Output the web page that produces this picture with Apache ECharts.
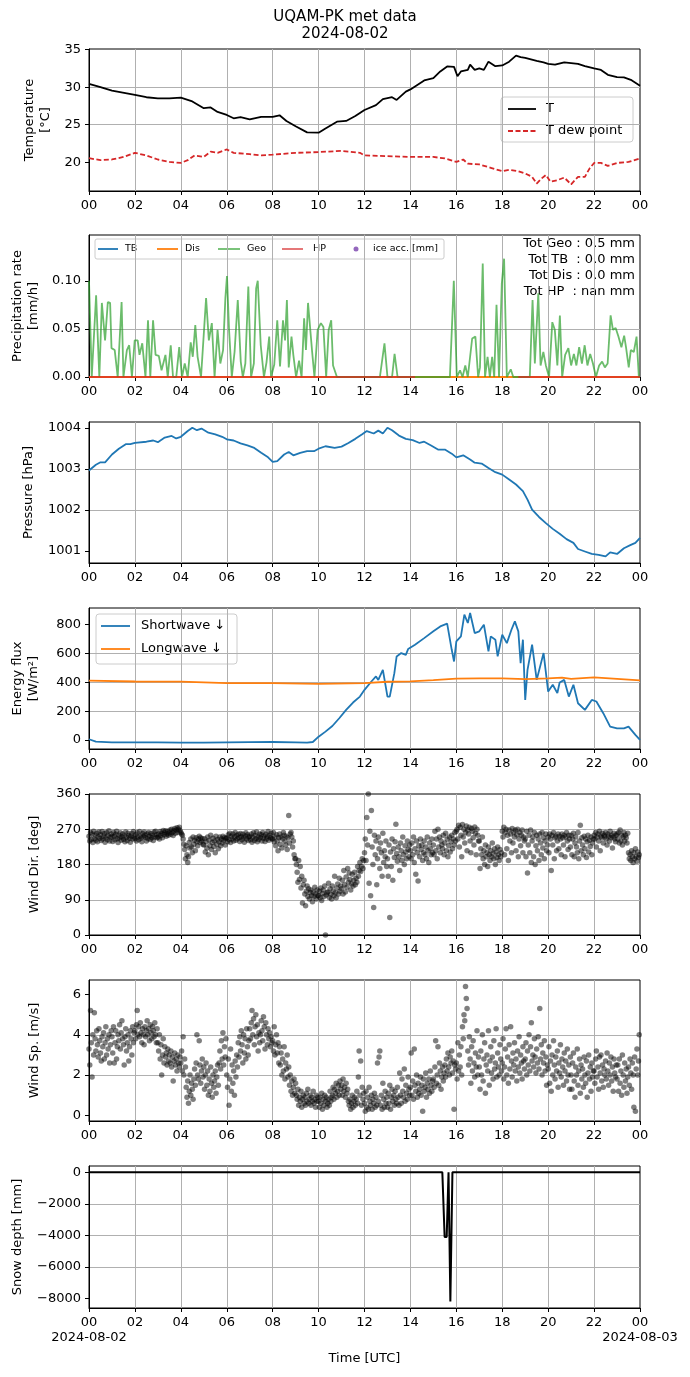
<!DOCTYPE html>
<html><head><meta charset="utf-8">
<script src="https://cdn.jsdelivr.net/npm/echarts@6/dist/echarts.min.js"></script>
<style>html,body{margin:0;padding:0;background:#fff}#c{width:690px;height:1377px}</style>
</head><body><div id="c"></div>
<script>
const FONT = 'DejaVu Sans';
// ---------- DATA ----------
const hourTicks = [0,2,4,6,8,10,12,14,16,18,20,22,24];
const dateLabels = ['2024-08-02','2024-08-03'];

const tempT = [[0,30.45],[0.5,30.0],[1,29.55],[2,28.97],[2.5,28.66],[3,28.5],[3.5,28.5],[4,28.6],[4.5,28.1],[5,27.2],[5.3,27.3],[5.6,26.7],[6,26.3],[6.3,25.85],[6.6,26.0],[7,25.7],[7.5,26.05],[8,26.05],[8.3,26.25],[8.6,25.5],[9,24.8],[9.5,23.97],[10,23.93],[10.3,24.5],[10.8,25.4],[11.2,25.5],[11.6,26.15],[12,26.96],[12.5,27.6],[12.8,28.4],[13.2,28.66],[13.4,28.3],[13.8,29.4],[14,29.7],[14.3,30.3],[14.6,30.9],[15,31.2],[15.3,32.1],[15.6,32.77],[15.9,32.7],[16.05,31.45],[16.2,32.1],[16.5,32.3],[16.6,33.0],[16.8,32.3],[17,32.5],[17.2,32.3],[17.4,33.4],[17.7,32.8],[18,32.9],[18.3,33.4],[18.6,34.2],[18.8,34.0],[19,33.9],[19.5,33.5],[19.8,33.3],[20,33.1],[20.3,33.0],[20.7,33.3],[21,33.2],[21.3,33.1],[21.6,32.8],[22,32.5],[22.3,32.3],[22.6,31.65],[23,31.35],[23.3,31.3],[23.6,30.98],[24,30.2]];
const tempDew = [[0,20.54],[0.5,20.27],[1,20.36],[1.5,20.7],[2,21.25],[2.5,20.9],[3,20.36],[3.5,20.04],[4,19.9],[4.3,20.27],[4.6,20.9],[5,20.7],[5.3,21.4],[5.6,21.25],[6,21.7],[6.3,21.25],[7,21.07],[7.5,20.9],[8,21.0],[9,21.25],[10,21.35],[11,21.5],[11.8,21.25],[12,20.9],[13,20.8],[14,20.7],[15,20.7],[15.5,20.5],[16,20.04],[16.3,20.36],[16.5,19.8],[17,19.7],[17.5,19.25],[18,18.8],[18.3,19.0],[18.7,18.8],[19,18.5],[19.3,18.05],[19.5,17.15],[19.7,17.8],[19.9,18.3],[20.1,17.4],[20.4,17.6],[20.7,17.95],[21,17.05],[21.3,18.05],[21.6,18.05],[21.8,19.15],[22,19.9],[22.3,19.9],[22.6,19.5],[23,19.9],[23.5,20.04],[24,20.5]];

const precipGeo = [[0,0.10],[0.12,0],[0.31,0.085],[0.45,0],[0.56,0.077],[0.7,0.038],[0.82,0.078],[0.92,0.077],[0.98,0.03],[1.12,0.028],[1.25,0],[1.42,0.078],[1.5,0],[1.65,0.028],[1.75,0.033],[1.87,0],[1.99,0.038],[2.12,0.038],[2.2,0.023],[2.32,0.035],[2.46,0],[2.57,0.059],[2.67,0],[2.79,0.059],[2.9,0.023],[3.04,0.022],[3.16,0.007],[3.33,0.023],[3.43,0],[3.56,0.033],[3.66,0],[3.8,0],[3.93,0.031],[4.05,0],[4.17,0.014],[4.3,0],[4.43,0.036],[4.52,0.021],[4.63,0.054],[4.73,0.021],[4.88,0],[5.1,0.082],[5.22,0.038],[5.35,0.056],[5.47,0],[5.6,0.049],[5.72,0.014],[5.84,0.028],[5.94,0.082],[6.01,0.105],[6.1,0.049],[6.22,0],[6.34,0.026],[6.48,0.08],[6.61,0.016],[6.7,0],[6.81,0.014],[6.94,0.094],[7.06,0],[7.18,0.014],[7.28,0.092],[7.35,0.10],[7.48,0.033],[7.62,0],[7.73,0.015],[7.85,0.042],[7.93,0],[8.07,0.013],[8.2,0.059],[8.32,0.011],[8.45,0.059],[8.54,0.038],[8.62,0.08],[8.7,0.01],[8.82,0.042],[8.9,0.023],[9.02,0],[9.15,0.017],[9.26,0],[9.37,0.061],[9.45,0.028],[9.54,0.077],[9.62,0.077],[9.72,0.026],[9.82,0],[9.96,0.049],[10.1,0.056],[10.21,0.052],[10.33,0],[10.44,0.049],[10.55,0.059],[10.63,0.012],[10.8,0],[12.67,0],[12.87,0.035],[13.0,0],[13.2,0],[13.31,0.024],[13.44,0],[15.72,0],[15.89,0.10],[16.02,0],[16.16,0.007],[16.27,0],[16.39,0.012],[16.5,0],[16.69,0.04],[16.83,0.042],[16.95,0],[17.03,0.01],[17.15,0.118],[17.25,0],[17.36,0.021],[17.46,0],[17.56,0.021],[17.65,0],[17.75,0.075],[17.86,0],[17.98,0.097],[18.08,0.123],[18.2,0],[18.37,0.008],[18.48,0],[19.2,0],[19.32,0.08],[19.42,0.014],[19.57,0.087],[19.67,0.012],[19.79,0.026],[19.9,0.012],[20.04,0],[20.18,0.057],[20.29,0.049],[20.4,0.012],[20.51,0.064],[20.61,0],[20.74,0.023],[20.88,0.03],[21.0,0.012],[21.12,0.024],[21.23,0.012],[21.35,0.031],[21.47,0.014],[21.59,0.033],[21.71,0.012],[21.83,0.024],[21.95,0.014],[22.08,0],[22.22,0.012],[22.35,0.016],[22.47,0.01],[22.59,0.014],[22.72,0.064],[22.82,0.049],[22.94,0.051],[23.06,0.042],[23.19,0.031],[23.31,0.043],[23.39,0.031],[23.51,0.01],[23.6,0.028],[23.73,0.026],[23.85,0.042],[23.95,0],[24,0]];
const precipTB = [[0,0],[24,0]];
const precipDis = [[0,0],[24,0]];
const precipHP = [[0,0],[14.2,0],[14.25,null],[18.7,0],[24,0]];
const precipTotals = ['Tot Geo : 0.5 mm','Tot TB  : 0.0 mm','Tot Dis : 0.0 mm','Tot HP  : nan mm'];

const pressure = [[0,1002.96],[0.3,1003.1],[0.5,1003.16],[0.7,1003.16],[1.0,1003.35],[1.3,1003.49],[1.6,1003.6],[1.8,1003.6],[2.0,1003.63],[2.5,1003.66],[2.8,1003.69],[3.0,1003.65],[3.3,1003.76],[3.6,1003.8],[3.8,1003.74],[4.0,1003.78],[4.3,1003.92],[4.5,1004.0],[4.7,1003.94],[4.9,1003.98],[5.2,1003.88],[5.5,1003.84],[5.8,1003.78],[6.0,1003.72],[6.3,1003.69],[6.6,1003.62],[6.9,1003.57],[7.2,1003.51],[7.5,1003.39],[7.8,1003.28],[8.0,1003.17],[8.2,1003.19],[8.5,1003.35],[8.7,1003.41],[8.9,1003.33],[9.2,1003.39],[9.5,1003.43],[9.8,1003.43],[10.0,1003.49],[10.3,1003.55],[10.7,1003.51],[11.0,1003.54],[11.3,1003.63],[11.6,1003.73],[11.9,1003.84],[12.1,1003.92],[12.4,1003.86],[12.6,1003.93],[12.8,1003.86],[13.0,1004.0],[13.2,1003.94],[13.5,1003.81],[13.8,1003.73],[14.1,1003.7],[14.4,1003.63],[14.6,1003.66],[14.9,1003.57],[15.2,1003.47],[15.5,1003.47],[15.8,1003.37],[16.0,1003.28],[16.3,1003.33],[16.6,1003.23],[16.8,1003.15],[17.1,1003.13],[17.4,1003.02],[17.7,1002.92],[18.0,1002.86],[18.3,1002.74],[18.6,1002.62],[18.9,1002.46],[19.1,1002.25],[19.3,1002.01],[19.6,1001.83],[19.9,1001.68],[20.2,1001.54],[20.5,1001.42],[20.8,1001.29],[21.1,1001.2],[21.3,1001.05],[21.6,1000.99],[21.9,1000.93],[22.2,1000.91],[22.5,1000.87],[22.7,1000.97],[23.0,1000.93],[23.3,1001.07],[23.6,1001.15],[23.8,1001.2],[24.0,1001.32]];

const shortwave = [[0,5],[0.3,-12],[1,-16],[2,-16],[3,-17],[4,-18],[5,-19],[6,-17],[7,-15],[8,-14],[9,-16],[9.5,-18],[9.75,-14],[10.0,23],[10.3,58],[10.6,97],[10.9,151],[11.2,209],[11.5,260],[11.8,301],[12.0,348],[12.3,406],[12.5,441],[12.6,417],[12.8,487],[13.0,301],[13.1,301],[13.3,464],[13.4,580],[13.6,603],[13.8,591],[13.9,631],[14.2,661],[14.6,707],[15.0,754],[15.3,788],[15.6,807],[15.8,626],[15.9,545],[16.0,684],[16.2,719],[16.35,870],[16.5,812],[16.6,881],[16.8,742],[17.0,754],[17.2,800],[17.4,615],[17.5,719],[17.7,696],[17.8,580],[18.0,730],[18.2,672],[18.4,765],[18.55,823],[18.7,754],[18.8,533],[18.9,696],[19.0,278],[19.1,487],[19.3,661],[19.5,417],[19.8,603],[20.0,336],[20.2,383],[20.4,325],[20.5,399],[20.7,417],[20.9,301],[21.1,383],[21.3,255],[21.6,209],[21.9,278],[22.1,267],[22.4,186],[22.7,93],[23.0,81],[23.3,81],[23.5,93],[23.8,35],[24.0,0]];
const longwave = [[0,412],[2,406],[4,405],[6,394],[8,394],[10,390],[12,394],[13,404],[14,407],[15,416],[16,426],[17,427],[18,427],[19,422],[20,427],[20.6,433],[21,424],[22,435],[23,424],[24,413]];

// wind samples every 2 minutes, one row per hour (30 samples each)
const windDir = [
 [252,240,262,244,258,236,265,246,255,242,260,238,251,263,247,256,241,264,245,252,259,237,248,262,243,254,266,240,250,258],
 [250,239,262,252,243,257,265,246,236,255,248,261,242,250,258,244,253,238,263,249,241,260,254,247,237,252,259,245,264,250],
 [246,256,240,261,250,243,264,252,247,238,259,251,263,255,249,240,258,246,262,252,244,259,248,255,241,263,250,265,256,248],
 [250,258,245,264,254,260,248,267,256,262,266,252,258,265,255,261,268,257,270,262,254,266,272,260,268,274,262,270,275,266],
 [262,258,255,245,232,218,195,228,205,185,200,236,222,245,225,210,250,232,242,215,248,238,228,245,252,236,248,240,246,232],
 [230,246,212,238,222,250,205,242,228,255,218,236,247,226,240,210,252,232,244,220,238,250,228,245,235,252,242,248,230,246],
 [248,238,256,243,260,236,252,245,258,240,250,262,242,254,246,257,249,239,259,251,243,257,248,237,253,261,245,256,241,250],
 [252,243,258,237,249,261,241,254,246,263,238,251,244,258,248,256,240,262,247,253,239,257,245,251,264,242,255,248,260,246],
 [245,262,238,250,228,256,240,215,248,258,232,250,222,245,262,255,240,230,252,218,248,305,235,258,262,250,225,240,205,195],
 [195,180,160,135,190,142,175,120,150,82,128,140,105,75,112,125,98,118,92,108,115,100,85,110,98,122,105,92,115,100],
 [100,112,95,120,88,106,115,98,125,0,102,108,110,132,96,118,104,92,125,112,100,150,108,95,120,130,105,145,112,125],
 [118,140,105,165,128,110,148,122,170,135,158,142,115,130,155,125,140,160,128,145,135,175,150,165,185,162,175,195,170,190],
 [210,245,190,300,230,360,132,265,100,318,225,180,70,255,205,240,128,195,250,220,170,235,210,150,260,185,215,200,240,175],
 [195,150,230,45,212,175,245,140,220,198,238,283,208,188,225,200,165,235,215,190,250,205,180,228,212,195,240,218,200,230],
 [215,195,235,205,250,185,220,155,240,210,138,228,200,245,218,230,190,210,240,205,225,195,250,215,185,235,220,205,245,210],
 [230,205,265,215,245,195,270,225,250,210,240,230,220,255,205,235,260,215,245,200,228,250,212,238,255,220,245,230,262,240],
 [265,270,245,280,225,275,255,200,282,250,270,235,262,278,215,268,258,275,240,210,272,265,248,230,276,260,205,270,255,240],
 [240,170,220,205,250,195,215,180,230,200,210,175,225,205,190,215,200,235,208,195,220,180,212,198,225,205,190,218,200,210],
 [265,250,275,205,262,270,220,255,190,268,240,258,210,272,235,262,250,268,215,256,270,200,245,262,228,255,268,210,250,240],
 [245,200,265,158,230,255,210,268,185,240,250,200,262,180,228,255,215,245,190,258,235,205,262,222,248,195,240,258,215,230],
 [250,210,258,245,165,255,230,262,195,248,252,215,240,258,220,252,245,205,258,248,230,255,200,250,262,240,218,255,245,225],
 [255,205,245,260,200,235,250,225,210,262,195,240,280,215,248,230,205,252,220,245,198,238,255,212,242,226,250,205,235,245],
 [255,245,262,225,250,258,240,265,215,252,248,260,235,255,250,262,245,230,258,252,240,265,248,255,222,250,260,245,238,255],
 [258,245,262,235,268,240,255,230,250,262,240,255,248,235,260,210,195,205,190,215,200,185,210,195,220,200,188,212,198,205]
];
const windSp = [
 [3.3,2.5,5.2,3.6,1.9,4.0,3.0,5.1,3.8,3.2,4.2,3.5,2.9,4.3,3.7,3.1,2.7,3.9,3.4,4.1,2.8,3.6,4.4,3.0,3.8,3.3,4.0,2.6,3.5,4.2],
 [3.9,3.1,4.4,2.6,3.6,4.2,2.8,3.4,4.0,3.7,4.5,3.3,4.1,4.7,3.8,3.5,2.5,3.9,4.3,3.2,3.6,4.0,2.7,3.4,4.2,3.8,3.0,4.4,3.6,4.1],
 [4.2,3.8,4.5,5.2,4.0,4.4,3.9,4.6,4.1,3.6,4.3,4.0,3.5,4.4,3.9,4.2,4.7,4.0,4.3,3.7,4.5,4.1,3.8,4.4,4.2,3.9,4.6,4.0,3.6,4.3],
 [3.6,3.2,4.0,2.8,3.5,2.0,3.0,3.8,2.6,3.4,2.9,3.1,2.5,3.3,2.7,3.0,2.6,3.2,2.4,2.9,1.7,2.7,3.1,2.5,2.8,2.2,3.0,2.6,2.4,2.9],
 [2.6,3.2,2.2,3.9,2.0,2.8,2.4,1.4,0.9,1.7,0.6,1.2,2.0,1.0,1.6,1.3,0.8,1.8,2.3,1.5,2.6,4.0,2.0,1.8,3.7,2.5,1.6,2.2,2.8,1.9],
 [2.4,1.3,2.0,2.6,1.5,2.2,1.0,1.8,1.2,2.4,1.6,0.9,2.0,1.4,1.7,2.2,1.1,1.9,2.5,1.5,2.6,3.2,2.3,3.7,2.8,4.1,2.5,3.4,2.9,3.8],
 [2.0,1.4,2.8,0.5,1.8,3.3,1.2,2.5,1.6,2.2,1.0,2.7,1.9,3.0,2.4,3.6,2.9,3.9,3.2,4.2,3.5,2.6,4.0,3.1,3.8,2.8,4.3,3.4,3.0,3.7],
 [4.3,3.8,4.6,5.2,4.0,4.8,3.5,4.4,5.0,3.9,4.5,3.2,4.1,3.6,4.0,4.7,4.2,3.7,4.9,4.4,3.3,4.6,4.0,3.5,4.3,3.8,4.1,3.4,3.9,3.6],
 [3.7,3.2,4.4,3.0,3.5,4.0,3.1,3.6,2.6,3.4,2.5,3.1,2.0,2.8,2.2,3.4,1.8,2.6,2.3,3.0,1.9,2.4,1.5,2.0,1.2,1.7,1.0,1.4,1.8,1.1],
 [1.6,1.0,0.8,1.3,0.5,0.9,0.7,1.2,0.4,0.8,1.0,0.6,0.9,0.5,1.1,0.7,1.3,0.6,0.8,1.0,0.5,0.9,0.7,1.2,0.6,0.8,0.4,1.0,0.7,0.9],
 [0.7,0.4,0.9,0.6,1.1,0.3,0.8,0.5,1.0,0.7,0.9,0.4,0.6,0.8,0.5,1.2,0.7,0.9,1.0,1.4,0.8,1.3,1.1,1.6,0.9,1.2,1.5,1.0,1.7,1.3],
 [1.5,1.0,1.8,1.2,1.4,0.9,1.6,1.1,1.3,0.7,0.5,0.8,0.3,0.6,1.0,0.4,0.7,0.9,0.5,0.8,1.2,0.6,1.9,3.2,1.0,2.7,0.5,1.4,0.8,1.1],
 [0.6,0.2,1.2,0.4,0.9,0.3,1.4,0.7,0.5,1.0,0.3,0.8,0.6,1.1,0.4,0.9,0.5,2.6,0.7,2.9,3.2,0.5,1.0,0.3,1.6,0.8,0.4,1.2,0.6,0.9],
 [0.4,1.1,0.6,1.5,0.3,0.9,1.3,0.7,1.0,0.5,1.2,0.8,0.6,1.4,0.9,0.5,2.1,1.0,0.6,1.8,1.2,0.9,2.3,0.7,1.5,1.1,0.8,1.9,1.3,1.0],
 [1.4,3.1,1.0,1.7,0.8,3.3,1.5,1.2,2.0,0.9,1.6,1.1,1.3,1.9,1.0,1.5,0.2,1.8,1.2,1.4,2.1,0.9,1.6,1.3,1.8,1.1,2.2,1.5,1.2,1.7],
 [1.8,1.4,2.4,3.7,1.6,2.0,3.4,1.5,2.6,2.2,1.3,1.9,2.4,1.7,2.1,2.5,1.9,2.8,2.2,3.1,2.4,2.0,2.9,2.6,3.2,2.1,2.7,0.3,2.5,2.3],
 [2.6,1.8,3.6,2.2,3.0,2.4,3.4,2.0,4.4,3.8,5.0,4.7,6.4,5.8,5.3,3.2,2.5,3.9,2.8,1.6,3.4,2.2,3.7,2.6,1.9,3.1,2.4,4.2,2.0,2.9],
 [2.4,1.3,3.2,2.0,4.0,1.7,2.8,3.6,1.1,2.5,3.0,2.2,4.2,1.5,2.7,3.4,2.1,2.9,1.8,3.7,2.3,2.6,4.3,1.9,3.1,2.4,2.0,3.5,2.8,2.2],
 [2.6,3.8,1.8,2.4,3.3,4.3,2.0,2.9,1.6,3.5,2.3,4.4,2.7,1.9,3.1,2.5,3.6,2.2,2.8,1.7,3.2,2.4,3.9,2.1,3.0,2.6,1.8,3.4,2.7,2.3],
 [2.8,3.6,2.0,3.2,2.5,4.0,2.2,3.4,4.6,2.7,3.0,2.4,3.8,2.9,2.1,3.3,2.6,3.9,2.3,5.3,2.8,3.5,2.0,3.1,2.6,3.7,2.2,2.9,1.5,2.5],
 [2.3,3.4,1.6,2.7,1.2,3.0,2.0,3.7,2.5,1.8,2.9,2.2,3.2,1.4,2.6,2.1,3.5,1.9,2.8,2.4,1.5,3.1,2.2,2.7,1.7,3.3,2.0,2.5,1.3,2.9],
 [2.0,1.3,2.6,3.1,1.7,0.9,2.4,2.0,3.3,1.5,2.2,2.8,1.1,2.5,1.8,2.3,1.4,2.9,2.0,1.6,2.7,0.9,2.1,3.0,1.8,2.4,1.2,2.6,1.9,2.2],
 [2.2,1.6,2.8,3.2,1.9,2.4,1.3,2.9,2.1,3.0,1.7,2.5,1.4,2.3,2.0,2.7,1.8,3.1,2.2,1.5,2.6,2.0,2.9,1.7,2.4,1.2,2.8,2.1,1.9,2.5],
 [1.8,2.5,1.2,2.8,1.6,2.2,1.0,3.0,2.0,1.4,2.6,1.7,2.3,1.1,1.9,2.4,1.5,2.8,2.1,1.3,2.6,2.0,0.4,2.9,0.2,2.3,3.3,2.0,2.7,4.0]
];
const windStepMin = 2;

const snowDepth = [[0,0],[15.39,0],[15.49,-4100],[15.58,-4100],[15.66,0],[15.74,-8200],[15.83,0],[24,0]];

// ---------- BUILD ----------
function toTimed(rows){
  const out=[];
  rows.forEach((row,h)=>row.forEach((v,k)=>out.push([h + (k*windStepMin)/60, v])));
  return out;
}
const pad = v => String(Math.round(v) % 24).padStart(2,'0');
const tops = [49,235,422,608,794,980,1166];
const heights = [142,142,141,141,141,141,142];
const GRID = '#b0b0b0';

function xAx(i){
  const last = i === 6;
  return {
    gridIndex:i, type:'value', min:0, max:24, interval:2,
    axisLine:{show:true, onZero:false, lineStyle:{color:'#000',width:1}},
    axisTick:{show:true, length:4, lineStyle:{color:'#000'}},
    axisLabel:{color:'#000', fontSize:13, fontFamily:FONT, margin:7, lineHeight:15,
      showMinLabel:true, showMaxLabel:true,
      formatter: v => {
        if (last && v === 0) return '00\n' + dateLabels[0];
        if (last && v === 24) return '00\n' + dateLabels[1];
        return pad(v);
      }},
    splitLine:{show:true, showMinLine:false, showMaxLine:false, lineStyle:{color:GRID,width:1}},
    name: last ? 'Time [UTC]' : '', nameLocation:'middle', nameGap:44,
    nameTextStyle:{color:'#000', fontSize:13, fontFamily:FONT}
  };
}
function yAx(i, min, max, ticks, name, gap, fmt){
  return {
    gridIndex:i, type:'value', min:min, max:max,
    axisLine:{show:true, onZero:false, lineStyle:{color:'#000',width:1}},
    axisTick:{show:true, length:4, lineStyle:{color:'#000'}, customValues:ticks},
    axisLabel:{color:'#000', fontSize:13, fontFamily:FONT, margin:8, customValues:ticks,
      formatter: fmt || (v => String(v))},
    splitLine:{show:true, showMinLine:false, showMaxLine:false, lineStyle:{color:GRID,width:1}},
    name:name, nameLocation:'middle', nameRotate:90, nameGap:gap,
    nameTextStyle:{color:'#000', fontSize:13, fontFamily:FONT, lineHeight:16, align:'center'}
  };
}
const minus = v => String(v).replace('-', '\u2212');

const lineS = (name, data, xi, color, w, extra) => Object.assign({
  name, type:'line', data, xAxisIndex:xi, yAxisIndex:xi, showSymbol:false, symbol:'none',
  lineStyle:{color, width:w}, itemStyle:{color}, connectNulls:false, animation:false
}, extra||{});

const option = {
  animation:false,
  backgroundColor:'#fff',
  grid: tops.map((t,i)=>({left:89, width:551, top:t, height:heights[i], show:true,
      borderColor:'#000', borderWidth:1, backgroundColor:'rgba(0,0,0,0)'})),
  xAxis: tops.map((t,i)=>xAx(i)),
  yAxis: [
    yAx(0, 16.16, 35.09, [20,25,30,35], 'Temperature\n[°C]', 33),
    yAx(1, 0, 0.1476, [0,0.05,0.10], 'Precipitation rate\n[mm/h]', 47, v => v.toFixed(2)),
    yAx(2, 1000.71, 1004.14, [1001,1002,1003,1004], 'Pressure [hPa]', 46),
    yAx(3, -62.6, 916, [0,200,400,600,800], 'Energy flux\n[W/m²]', 47),
    yAx(4, 0, 360, [0,90,180,270,360], 'Wind Dir. [deg]', 46),
    yAx(5, -0.28, 6.72, [0,2,4,6], 'Wind Sp. [m/s]', 46),
    yAx(6, -8614, 402, [-8000,-6000,-4000,-2000,0], 'Snow depth [mm]', 62, minus)
  ],
  series: [
    lineS('T', tempT, 0, '#000', 1.8),
    lineS('T dew point', tempDew, 0, '#d62728', 1.8, {lineStyle:{color:'#d62728',width:1.8,type:[5,2.5]}}),
    lineS('TB', precipTB, 1, '#1f77b4', 1.8),
    lineS('Dis', precipDis, 1, '#ff7f0e', 1.8),
    lineS('Geo', precipGeo, 1, '#2ca02c', 1.8, {lineStyle:{color:'#2ca02c',width:1.8,opacity:0.7}}),
    lineS('HP', precipHP, 1, '#d62728', 1.8, {lineStyle:{color:'#d62728',width:1.8,opacity:0.7}}),
    lineS('Pressure', pressure, 2, '#1f77b4', 1.8),
    lineS('Shortwave ↓', shortwave, 3, '#1f77b4', 1.8),
    lineS('Longwave ↓', longwave, 3, '#ff7f0e', 1.8),
    {name:'Wind dir', type:'scatter', data:toTimed(windDir), xAxisIndex:4, yAxisIndex:4, symbolSize:5.5,
      itemStyle:{color:'#000', opacity:0.5}, animation:false},
    {name:'Wind sp', type:'scatter', data:toTimed(windSp), xAxisIndex:5, yAxisIndex:5, symbolSize:5.5,
      itemStyle:{color:'#000', opacity:0.5}, animation:false},
    lineS('Snow depth', snowDepth, 6, '#000', 2)
  ],
  graphic: [
    {type:'text', left:'center', top:9, style:{text:'UQAM-PK met data\n2024-08-02', fill:'#000', font:'15px "DejaVu Sans"', lineHeight:17, textAlign:'center'}},
    // legend panel 1
    {type:'rect', shape:{x:501,y:97,width:132,height:45,r:3}, style:{fill:'rgba(255,255,255,0.8)', stroke:'#cccccc', lineWidth:1}},
    {type:'line', shape:{x1:508,y1:109,x2:536,y2:109}, style:{stroke:'#000', lineWidth:1.8}},
    {type:'text', x:546, y:109, style:{text:'T', fill:'#000', font:'13px "DejaVu Sans"', verticalAlign:'middle'}},
    {type:'line', shape:{x1:508,y1:131,x2:536,y2:131}, style:{stroke:'#d62728', lineWidth:1.8, lineDash:[5,2.5]}},
    {type:'text', x:546, y:131, style:{text:'T dew point', fill:'#000', font:'13px "DejaVu Sans"', verticalAlign:'middle'}},
    // legend panel 2
    {type:'rect', shape:{x:95,y:239,width:349,height:20,r:2}, style:{fill:'rgba(255,255,255,0.8)', stroke:'#cccccc', lineWidth:1}},
    {type:'line', shape:{x1:98,y1:249,x2:118,y2:249}, style:{stroke:'#1f77b4', lineWidth:1.8}},
    {type:'text', x:125, y:249, style:{text:'TB', fill:'#000', font:'9.5px "DejaVu Sans"', verticalAlign:'middle'}},
    {type:'line', shape:{x1:157,y1:249,x2:178,y2:249}, style:{stroke:'#ff7f0e', lineWidth:1.8}},
    {type:'text', x:185, y:249, style:{text:'Dis', fill:'#000', font:'9.5px "DejaVu Sans"', verticalAlign:'middle'}},
    {type:'line', shape:{x1:218,y1:249,x2:240,y2:249}, style:{stroke:'#2ca02c', lineWidth:1.8, opacity:0.7}},
    {type:'text', x:247, y:249, style:{text:'Geo', fill:'#000', font:'9.5px "DejaVu Sans"', verticalAlign:'middle'}},
    {type:'line', shape:{x1:282,y1:249,x2:303,y2:249}, style:{stroke:'#d62728', lineWidth:1.8, opacity:0.7}},
    {type:'text', x:313, y:249, style:{text:'HP', fill:'#000', font:'9.5px "DejaVu Sans"', verticalAlign:'middle'}},
    {type:'circle', shape:{cx:356,cy:249,r:2.5}, style:{fill:'#9467bd'}},
    {type:'text', x:373, y:249, style:{text:'ice acc. [mm]', fill:'#000', font:'9.5px "DejaVu Sans"', verticalAlign:'middle'}},
    {type:'text', x:635, y:236, style:{text:precipTotals.join('\n'), fill:'#000', font:'13px "DejaVu Sans"', lineHeight:16, textAlign:'right'}},
    // legend panel 4
    {type:'rect', shape:{x:96,y:614,width:141,height:50,r:3}, style:{fill:'rgba(255,255,255,0.8)', stroke:'#cccccc', lineWidth:1}},
    {type:'line', shape:{x1:101,y1:626,x2:130,y2:626}, style:{stroke:'#1f77b4', lineWidth:1.8}},
    {type:'text', x:141, y:626, style:{text:'Shortwave ↓', fill:'#000', font:'13px "DejaVu Sans"', verticalAlign:'middle'}},
    {type:'line', shape:{x1:101,y1:649,x2:130,y2:649}, style:{stroke:'#ff7f0e', lineWidth:1.8}},
    {type:'text', x:141, y:649, style:{text:'Longwave ↓', fill:'#000', font:'13px "DejaVu Sans"', verticalAlign:'middle'}}
  ]
};
const chart = echarts.init(document.getElementById('c'), null, {renderer:'canvas'});
chart.setOption(option);
</script></body></html>
